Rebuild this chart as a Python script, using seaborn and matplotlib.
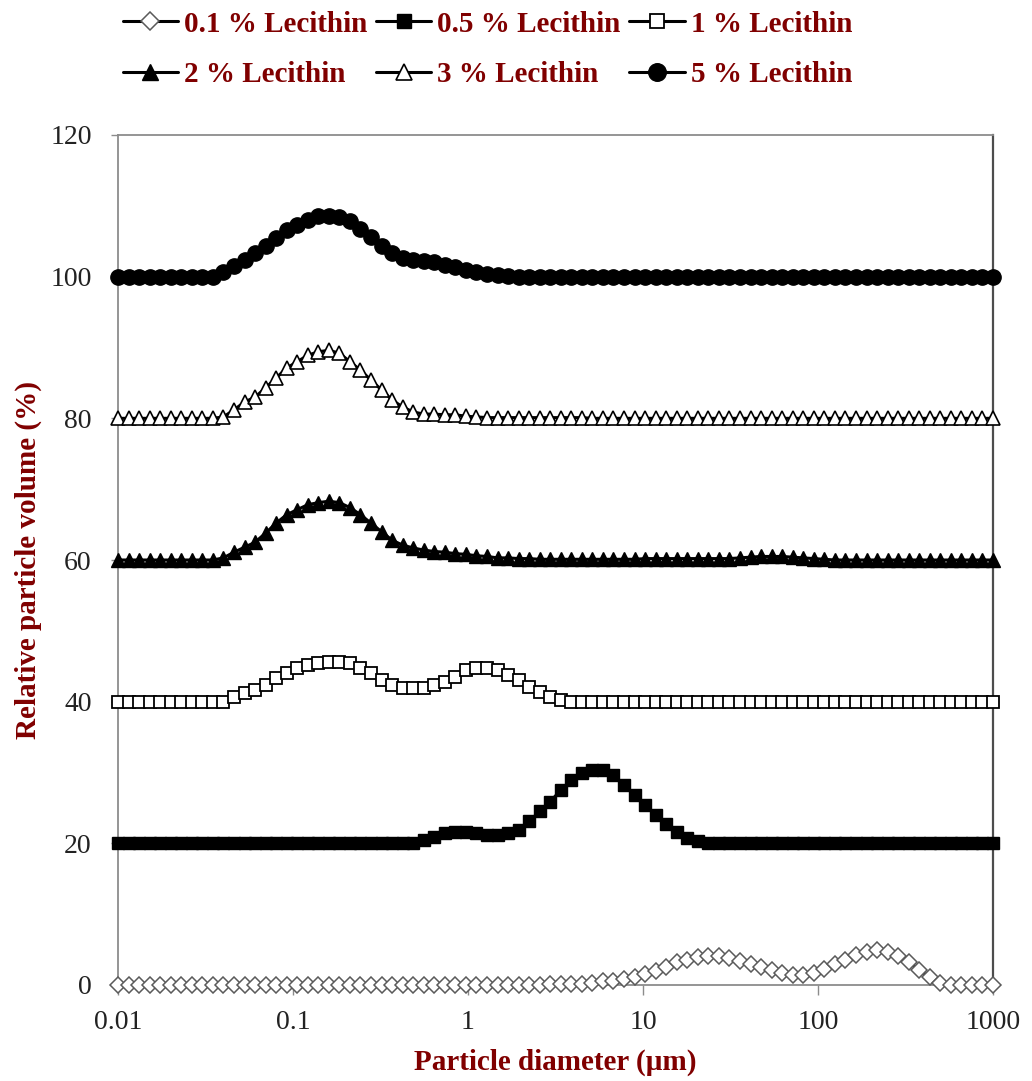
import matplotlib
matplotlib.use("Agg")
import matplotlib.pyplot as plt
from matplotlib.ticker import NullLocator, FixedLocator, FixedFormatter
import seaborn as sns
import pandas as pd

# particle size classes (µm)
size_um = [
    0.01, 0.01149, 0.01320, 0.01516, 0.01742, 0.02001, 0.02299, 0.02641, 0.03033, 0.03485,
    0.04003, 0.04599, 0.05283, 0.06069, 0.06973, 0.08010, 0.09202, 0.1057, 0.1214, 0.1395,
    0.1603, 0.1841, 0.2115, 0.2430, 0.2791, 0.3206, 0.3683, 0.4231, 0.4861, 0.5584,
    0.6415, 0.7370, 0.8466, 0.9726, 1.117, 1.284, 1.475, 1.694, 1.946, 2.236,
    2.568, 2.950, 3.389, 3.894, 4.473, 5.138, 5.903, 6.782, 7.791, 8.950,
    10.28, 11.81, 13.57, 15.59, 17.91, 20.57, 23.63, 27.15, 31.19, 35.83,
    41.16, 47.28, 54.32, 62.40, 71.68, 82.35, 94.60, 108.7, 124.8, 143.4,
    164.8, 189.3, 217.4, 249.8, 287.0, 329.7, 378.7, 435.1, 499.8, 574.2,
    659.6, 757.8, 870.5, 1000.0,
]

# relative particle volume (%) for each lecithin level (before vertical offset)
lec_01 = [0.0] * 40 + [
    0.05, 0.1, 0.1, 0.15, 0.2, 0.3, 0.5, 0.6, 0.8, 1.2,
    1.6, 2.0, 2.6, 3.2, 3.6, 3.9, 4.1, 4.1, 3.8, 3.4,
    3.0, 2.5, 2.1, 1.7, 1.4, 1.4, 1.7, 2.2, 3.0, 3.6,
    4.2, 4.7, 4.9, 4.7, 4.1, 3.2, 2.1, 1.1, 0.3,
] + [0.0] * 5

lec_05 = [0.0] * 29 + [
    0.5, 0.9, 1.4, 1.6, 1.6, 1.4, 1.2, 1.2, 1.4, 1.9,
    3.1, 4.5, 5.9, 7.5, 8.9, 9.9, 10.4, 10.4, 9.6, 8.2,
    6.8, 5.4, 4.0, 2.8, 1.6, 0.8, 0.3, 0.1,
] + [0.0] * 27

lec_1 = [0.0] * 11 + [
    0.7, 1.2, 1.6, 2.4, 3.3, 4.0, 4.7, 5.2, 5.4, 5.6,
    5.6, 5.4, 4.7, 4.0, 3.1, 2.4, 1.9, 1.9, 1.9, 2.4,
    2.8, 3.5, 4.5, 4.7, 4.7, 4.5, 3.8, 3.1, 2.1, 1.4,
    0.7, 0.2, 0.0,
] + [0.0] * 40

lec_2 = [0.0] * 10 + [
    0.3, 1.1, 1.8, 2.5, 3.8, 5.2, 6.4, 7.1, 7.8, 8.1,
    8.3, 8.1, 7.4, 6.4, 5.2, 4.0, 2.8, 2.1, 1.7, 1.4,
    1.2, 1.1, 0.9, 0.8, 0.6, 0.5, 0.3,
    0.3, 0.2, 0.2,
    0.1, 0.1, 0.1, 0.1, 0.1, 0.1, 0.1, 0.1, 0.1, 0.1,
    0.2, 0.2, 0.2, 0.2, 0.2, 0.2, 0.2, 0.2, 0.2,
    0.3, 0.4, 0.5, 0.5, 0.5, 0.4, 0.3, 0.2,
    0.1,
] + [0.0] * 16

lec_3 = [0.0] * 10 + [
    0.2, 1.2, 2.3, 3.0, 4.3, 5.7, 7.1, 8.0, 8.9, 9.4,
    9.6, 9.2, 8.0, 6.8, 5.4, 4.0, 2.6, 1.6, 0.9,
    0.6, 0.6, 0.5, 0.5, 0.3, 0.2,
    0.1, 0.1, 0.1, 0.1, 0.1, 0.1, 0.1, 0.1, 0.1, 0.1,
] + [0.0] * 39

lec_5 = [0.0] * 10 + [
    0.6, 1.5, 2.3, 3.3, 4.4, 5.4, 6.6, 7.3, 8.0, 8.5,
    8.6, 8.4, 7.8, 6.8, 5.6, 4.3, 3.3, 2.7, 2.4, 2.2,
    2.1, 1.7, 1.3, 1.0, 0.6, 0.4, 0.2, 0.1,
] + [0.0] * 46

labels = ["0.1 % Lecithin", "0.5 % Lecithin", "1 % Lecithin",
          "2 % Lecithin", "3 % Lecithin", "5 % Lecithin"]
offsets = [0, 20, 40, 60, 80, 100]
series = [lec_01, lec_05, lec_1, lec_2, lec_3, lec_5]

x_ticks = [0.01, 0.1, 1, 10, 100, 1000]
x_tick_labels = ["0.01", "0.1", "1", "10", "100", "1000"]
y_ticks = [0, 20, 40, 60, 80, 100, 120]

# styles
styles = [
    dict(marker="D", markersize=8.2, markerfacecolor="white", markeredgecolor="#5a5a5a", markeredgewidth=1.1),
    dict(marker="s", markersize=9.2, markerfacecolor="black", markeredgecolor="black", markeredgewidth=1.0),
    dict(marker="s", markersize=9.2, markerfacecolor="white", markeredgecolor="black", markeredgewidth=1.3),
    dict(marker="^", markersize=10.5, markerfacecolor="black", markeredgecolor="black", markeredgewidth=1.0),
    dict(marker="^", markersize=10.5, markerfacecolor="white", markeredgecolor="black", markeredgewidth=1.2),
    dict(marker="o", markersize=11, markerfacecolor="black", markeredgecolor="black", markeredgewidth=1.0),
]

sns.set_style("white")
plt.rcParams["font.family"] = ["Liberation Serif", "DejaVu Serif"]

label_color = "#800000"

fig = plt.figure(figsize=(10.32, 10.81), dpi=100)
ax = fig.add_axes([118 / 1032, 1 - 985 / 1081, (993 - 118) / 1032, (985 - 135) / 1081])

for vals, off, lab, st in zip(series, offsets, labels, styles):
    df = pd.DataFrame({"size": size_um, "volume": [v + off for v in vals]})
    sns.lineplot(data=df, x="size", y="volume", ax=ax, color="black", linewidth=2.2,
                 estimator=None, sort=False, errorbar=None, label=lab,
                 clip_on=False, zorder=3, **st)

if ax.get_legend() is not None:
    ax.get_legend().remove()

ax.set_xscale("log")
ax.set_xlim(0.01, 1000)
ax.set_ylim(0, 120)
ax.xaxis.set_major_locator(FixedLocator(x_ticks))
ax.xaxis.set_major_formatter(FixedFormatter(x_tick_labels))
ax.xaxis.set_minor_locator(NullLocator())
ax.set_yticks(y_ticks)
ax.set_yticklabels([str(v) for v in y_ticks])

ax.tick_params(axis="x", which="major", direction="out", length=7, width=1.0,
               color="#8c8c8c", labelsize=20, pad=11, labelcolor="#222222", bottom=True)
ax.tick_params(axis="y", which="major", direction="out", length=5, width=1.0,
               color="#8c8c8c", labelsize=20, pad=14, labelcolor="#222222", left=True)

for side in ["left", "bottom", "top"]:
    ax.spines[side].set_color("#8c8c8c")
    ax.spines[side].set_linewidth(1.3)
ax.spines["right"].set_color("#4d4d4d")
ax.spines["right"].set_linewidth(1.6)
for s in ax.spines.values():
    s.set_visible(True)

ax.set_xlabel("Particle diameter (µm)", fontsize=21, fontweight="bold", color=label_color, labelpad=10)
ax.set_ylabel("Relative particle volume (%)", fontsize=21, fontweight="bold", color=label_color, labelpad=6)

handles, labs = ax.get_legend_handles_labels()
order = [0, 3, 1, 4, 2, 5]
fig.legend([handles[i] for i in order], [labs[i] for i in order], ncol=3,
           loc="upper left", bbox_to_anchor=(108 / 1032, 1 + 4 / 1081),
           frameon=False, borderpad=0, handlelength=1.9, handletextpad=0.2,
           columnspacing=0.3, labelspacing=0.8, markerscale=1.15,
           prop={"family": ["Liberation Serif"], "weight": "bold", "size": 21},
           labelcolor=label_color)

fig.savefig("out.png", dpi=100)
